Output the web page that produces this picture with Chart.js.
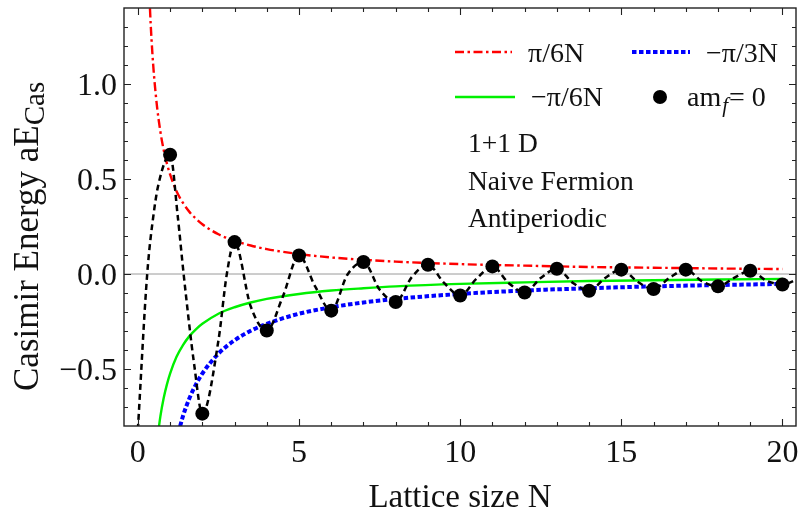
<!DOCTYPE html>
<html>
<head>
<meta charset="utf-8">
<script src="https://cdn.jsdelivr.net/npm/chart.js@4.4.1/dist/chart.umd.min.js"></script>
<style>
  html, body { margin: 0; padding: 0; background: #fff; }
  #wrap { width: 803px; height: 514px; }
</style>
</head>
<body>
<div id="wrap"><canvas id="c" width="803" height="514"></canvas></div>
<script>
// ---------- data ----------
const N_DOTS = [1,2,3,4,5,6,7,8,9,10,11,12,13,14,15,16,17,18,19,20];
const E_DOTS = [0.628,-0.735,0.168,-0.297,0.097,-0.193,0.063,-0.147,0.049,-0.113,
                0.040,-0.097,0.028,-0.088,0.023,-0.079,0.023,-0.065,0.017,-0.055];

// black dashed interpolating curve through the dots
const N_CURVE = [0,0.29,0.5,0.65,1,1.24,1.42,1.75,2,2.5,2.76,3,3.5,4,4.5,5,5.5,6,6.5,7,7.5,8,8.5,9,9.5,10,
                 10.5,11,11.5,12,12.5,13,13.5,14,14.5,15,15.5,16,16.5,17,17.5,18,18.5,19,19.5,20,20.5];
const E_CURVE = [-0.82,0.0,0.33,0.48,0.628,0.30,0.0,-0.48,-0.735,-0.35,0.0,0.168,-0.17,-0.297,-0.118,0.097,
                 -0.065,-0.193,-0.004,0.063,-0.082,-0.147,-0.016,0.049,-0.047,-0.113,
                 -0.026,0.040,-0.047,-0.097,-0.021,0.028,-0.047,-0.088,-0.021,0.023,-0.040,-0.079,
                 -0.020,0.023,-0.038,-0.065,-0.020,0.017,-0.035,-0.055,-0.025];

// pi/6N (red), -pi/6N (green)
const N_RED   = [0.35,0.4,0.45,0.5,0.6,0.7,0.8,0.9,1,1.2,1.4,1.6,1.8,2,2.5,3,3.5,4,5,6,7,8,10,12,14,16,18,20];
const E_RED   = [1.496,1.309,1.164,1.047,0.873,0.748,0.654,0.582,0.524,0.436,0.374,0.327,0.291,0.262,
                 0.209,0.175,0.150,0.131,0.105,0.087,0.075,0.065,0.052,0.044,0.037,0.033,0.029,0.026];
const N_GREEN = [0.6,0.7,0.8,0.9,1,1.2,1.4,1.6,1.8,2,2.5,3,3.5,4,5,6,7,8,10,12,14,16,18,20];
const E_GREEN = [-0.873,-0.748,-0.654,-0.582,-0.524,-0.436,-0.374,-0.327,-0.291,-0.262,-0.209,-0.175,
                 -0.150,-0.131,-0.105,-0.087,-0.075,-0.065,-0.052,-0.044,-0.037,-0.033,-0.029,-0.026];
// -pi/3N (blue)
const N_BLUE  = [1.2,1.4,1.6,1.8,2,2.5,3,3.5,4,5,6,7,8,10,12,14,16,18,20];
const E_BLUE  = [-0.873,-0.748,-0.654,-0.582,-0.524,-0.419,-0.349,-0.299,-0.262,-0.209,-0.175,-0.150,
                 -0.131,-0.105,-0.087,-0.075,-0.065,-0.058,-0.052];

// ticks
const X_TICKS = [0,5,10,15,20];
const X_TICK_LABELS = ['0','5','10','15','20'];
const Y_TICKS = [-0.5,0,0.5,1.0];
const Y_TICK_LABELS = ['\u22120.5','0.0','0.5','1.0'];

const LEGEND_LABELS = ['\u03c0/6N','\u2212\u03c0/3N','\u2212\u03c0/6N'];
const NOTE_LINES = ['1+1 D','Naive Fermion','Antiperiodic'];

const pts = (xs, ys) => xs.map((x, i) => ({x, y: ys[i]}));
const SERIF = '"Liberation Serif", "DejaVu Serif", serif';

const frame = {
  id: 'frame',
  beforeDatasetsDraw(chart) {
    const {ctx, chartArea: a, scales: {y}} = chart;
    const y0 = y.getPixelForValue(0);
    ctx.save();
    ctx.strokeStyle = '#9a9a9a'; ctx.lineWidth = 1;
    ctx.beginPath(); ctx.moveTo(a.left, y0); ctx.lineTo(a.right, y0); ctx.stroke();
    ctx.restore();
  },
  afterDraw(chart) {
    const {ctx, chartArea: a, scales: {x, y}} = chart;
    ctx.save();
    // frame
    ctx.strokeStyle = '#222'; ctx.lineWidth = 1.4;
    ctx.strokeRect(a.left, a.top, a.right - a.left, a.bottom - a.top);
    // ticks
    ctx.lineWidth = 1.1;
    ctx.beginPath();
    for (let v = 0; v <= 20; v++) {
      const px = Math.round(x.getPixelForValue(v)) + 0.5;
      const L = (v % 5 === 0) ? 7 : 4;
      ctx.moveTo(px, a.bottom); ctx.lineTo(px, a.bottom - L);
      ctx.moveTo(px, a.top); ctx.lineTo(px, a.top + L);
    }
    for (let k = -7; k <= 13; k++) {
      const v = k / 10;
      const py = Math.round(y.getPixelForValue(v)) + 0.5;
      const L = (k % 5 === 0) ? 7 : 4;
      ctx.moveTo(a.left, py); ctx.lineTo(a.left + L, py);
      ctx.moveTo(a.right, py); ctx.lineTo(a.right - L, py);
    }
    ctx.stroke();
    // tick labels
    ctx.fillStyle = '#111';
    ctx.font = '32px ' + SERIF;
    ctx.textAlign = 'center'; ctx.textBaseline = 'alphabetic';
    X_TICKS.forEach((v, i) => ctx.fillText(X_TICK_LABELS[i], x.getPixelForValue(v), a.bottom + 36));
    ctx.textAlign = 'right';
    Y_TICKS.forEach((v, i) => ctx.fillText(Y_TICK_LABELS[i], a.left - 7, y.getPixelForValue(v) + 11));
    // axis titles
    ctx.font = '33px ' + SERIF;
    ctx.textAlign = 'center';
    ctx.fillText('Lattice size N', (a.left + a.right) / 2, 507);
    ctx.save();
    ctx.translate(38, 391); ctx.rotate(-Math.PI / 2);
    ctx.textAlign = 'left';
    const main = 'Casimir Energy aE';
    ctx.font = '35px ' + SERIF;
    ctx.fillText(main, 0, 0);
    const w = ctx.measureText(main).width;
    ctx.font = '29px ' + SERIF;
    ctx.fillText('Cas', w, 6);
    ctx.restore();
    // legend
    const drawSample = (x1, x2, yy, color, width, dash) => {
      ctx.save();
      ctx.strokeStyle = color; ctx.lineWidth = width; ctx.setLineDash(dash);
      ctx.beginPath(); ctx.moveTo(x1, yy); ctx.lineTo(x2, yy); ctx.stroke();
      ctx.restore();
    };
    drawSample(455, 512, 52, '#ff0000', 2.4, [9, 3.5, 2.5, 3.5]);
    drawSample(632, 690, 52, '#0000ff', 4, [4.5, 2.5]);
    drawSample(455, 515, 97, '#00f000', 2.4, []);
    ctx.fillStyle = '#000';
    ctx.beginPath(); ctx.arc(660, 97, 7, 0, Math.PI * 2); ctx.fill();
    ctx.fillStyle = '#111';
    ctx.textAlign = 'left';
    ctx.font = '28px ' + SERIF;
    ctx.fillText(LEGEND_LABELS[0], 528, 62);
    ctx.fillText(LEGEND_LABELS[1], 706, 62);
    ctx.fillText(LEGEND_LABELS[2], 531, 106);
    ctx.fillText('am', 687, 106);
    const wam = ctx.measureText('am').width;
    ctx.font = 'italic 21px ' + SERIF;
    ctx.fillText('f', 687 + wam + 1, 112);
    ctx.font = '28px ' + SERIF;
    ctx.fillText('= 0', 729, 106);
    // notes
    ctx.font = '27.5px ' + SERIF;
    NOTE_LINES.forEach((t, i) => ctx.fillText(t, 468, 152 + i * 37.5));
    ctx.restore();
  }
};

new Chart(document.getElementById('c'), {
  type: 'scatter',
  data: {
    datasets: [
      { label: 'am_f = 0', data: pts(N_DOTS, E_DOTS), showLine: false,
        pointRadius: 7, pointHoverRadius: 7, pointBackgroundColor: '#000', pointBorderWidth: 0, borderColor: '#000' },
      { label: 'curve', data: pts(N_CURVE, E_CURVE), showLine: true, pointRadius: 0,
        borderColor: '#000', borderWidth: 2.5, borderDash: [6, 4], cubicInterpolationMode: 'monotone', clip: 0 },
      { label: 'pi/6N', data: pts(N_RED, E_RED), showLine: true, pointRadius: 0,
        borderColor: '#ff0000', borderWidth: 2.4, borderDash: [9, 3.5, 2.5, 3.5], cubicInterpolationMode: 'monotone', clip: 0 },
      { label: '-pi/3N', data: pts(N_BLUE, E_BLUE), showLine: true, pointRadius: 0,
        borderColor: '#0000ff', borderWidth: 4, borderDash: [4.5, 2.5], cubicInterpolationMode: 'monotone', clip: 0 },
      { label: '-pi/6N', data: pts(N_GREEN, E_GREEN), showLine: true, pointRadius: 0,
        borderColor: '#00f000', borderWidth: 2.4, cubicInterpolationMode: 'monotone', clip: 0 }
    ]
  },
  options: {
    responsive: false,
    animation: false,
    devicePixelRatio: 1,
    layout: { padding: { left: 124, right: 2, top: 8, bottom: 88 } },
    plugins: { legend: { display: false }, tooltip: { enabled: false } },
    scales: {
      x: { type: 'linear', min: -0.43, max: 20.42, display: false },
      y: { type: 'linear', min: -0.80, max: 1.40, display: false }
    }
  },
  plugins: [frame]
});
</script>
</body>
</html>
